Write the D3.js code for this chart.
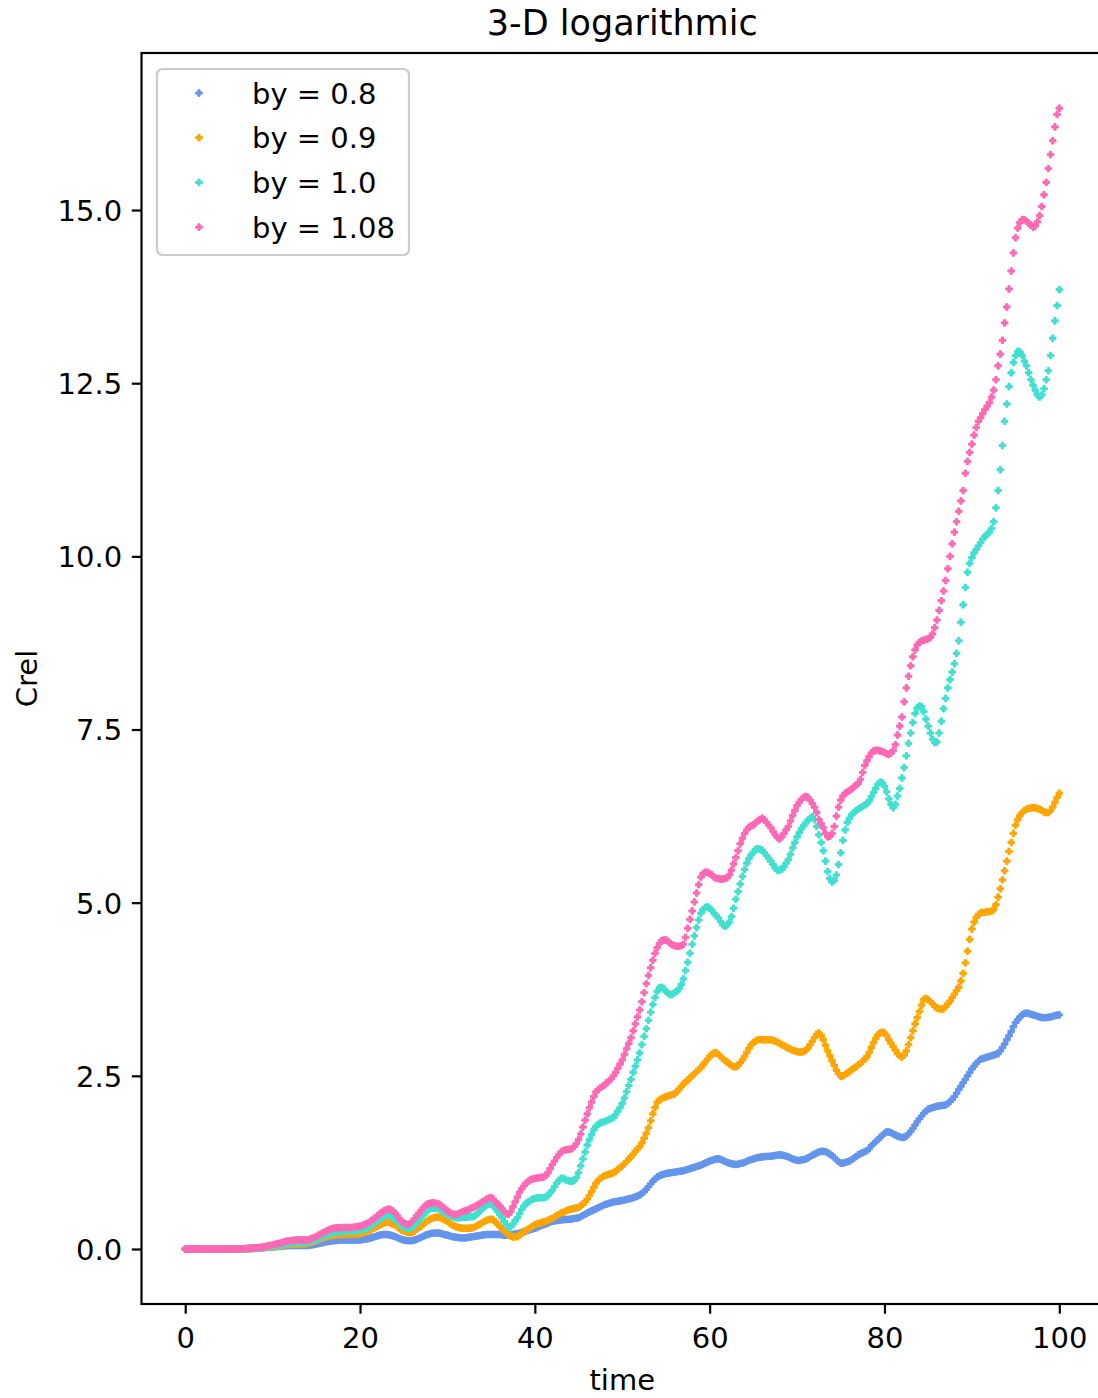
<!DOCTYPE html>
<html><head><meta charset="utf-8">
<script src="https://cdn.jsdelivr.net/npm/d3@7"></script>
<style>body{margin:0;background:#fff}svg{display:block}text{font-family:"DejaVu Sans",sans-serif;fill:#000}</style>
</head><body><svg id="c" width="1098" height="1398"></svg>
<script>
const chartTitle = "3-D logarithmic";
const xLabel = "time";
const yLabel = "Crel";
const seriesNames = ["by = 0.8", "by = 0.9", "by = 1.0", "by = 1.08"];
const seriesColors = ["#6495ED", "#FFA500", "#40E0D0", "#FF69B4"];
const xTicks = [0, 20, 40, 60, 80, 100];
const yTicks = [0, 2.5, 5, 7.5, 10, 12.5, 15];
const timeStep = 0.25;

const by08 = [
0,0,0,0, 0,0,0,0, 0,0,0,0, 0,0,0,0, 0,0,0,0, 0,0,0,0,
0,0.001,0.002,0.003, 0.004,0.005,0.006,0.008, 0.01,0.012,0.014,0.017, 0.02,0.022,0.025,0.027,
0.03,0.033,0.035,0.038, 0.04,0.043,0.046,0.048, 0.05,0.05,0.05,0.05, 0.05,0.05,0.05,0.05,
0.05,0.055,0.06,0.065, 0.07,0.078,0.085,0.093, 0.1,0.105,0.11,0.115, 0.12,0.123,0.126,0.128,
0.13,0.13,0.13,0.13, 0.13,0.13,0.13,0.13, 0.13,0.135,0.14,0.145, 0.15,0.16,0.17,0.18,
0.19,0.2,0.205,0.21, 0.21,0.205,0.2,0.19, 0.18,0.165,0.15,0.14, 0.13,0.125,0.12,0.12,
0.12,0.13,0.14,0.155, 0.17,0.185,0.2,0.21, 0.22,0.225,0.23,0.23, 0.23,0.225,0.215,0.205,
0.2,0.19,0.18,0.175, 0.17,0.165,0.16,0.16, 0.16,0.165,0.17,0.175, 0.18,0.185,0.19,0.195,
0.2,0.205,0.21,0.21, 0.21,0.21,0.21,0.21, 0.21,0.205,0.2,0.2, 0.2,0.205,0.21,0.215,
0.22,0.23,0.24,0.25, 0.26,0.27,0.28,0.29, 0.3,0.31,0.325,0.34, 0.35,0.36,0.375,0.39,
0.4,0.405,0.41,0.415, 0.42,0.423,0.425,0.428, 0.43,0.435,0.44,0.445, 0.45,0.465,0.485,0.5,
0.52,0.535,0.55,0.565, 0.58,0.595,0.61,0.625, 0.64,0.65,0.66,0.67, 0.68,0.685,0.69,0.695,
0.7,0.707,0.715,0.722, 0.73,0.74,0.752,0.765, 0.78,0.8,0.83,0.86, 0.9,0.94,0.98,1.01,
1.04,1.055,1.07,1.08, 1.09,1.095,1.1,1.105, 1.11,1.115,1.12,1.125, 1.13,1.14,1.15,1.16,
1.17,1.18,1.19,1.2, 1.21,1.225,1.24,1.255, 1.27,1.28,1.29,1.3, 1.3,1.295,1.28,1.265,
1.25,1.24,1.23,1.225, 1.22,1.225,1.235,1.24, 1.25,1.265,1.28,1.29, 1.3,1.31,1.32,1.325,
1.33,1.333,1.336,1.338, 1.34,1.345,1.35,1.355, 1.36,1.355,1.35,1.34, 1.33,1.315,1.3,1.29,
1.28,1.28,1.285,1.29, 1.3,1.315,1.335,1.355, 1.37,1.385,1.4,1.41, 1.41,1.405,1.39,1.37,
1.35,1.32,1.29,1.26, 1.24,1.24,1.25,1.26, 1.27,1.29,1.31,1.335, 1.36,1.375,1.39,1.405,
1.42,1.45,1.49,1.52, 1.55,1.58,1.61,1.64, 1.67,1.69,1.69,1.68, 1.66,1.645,1.63,1.62,
1.61,1.615,1.63,1.66, 1.7,1.74,1.79,1.84, 1.88,1.92,1.96,1.99, 2.02,2.03,2.04,2.05,
2.06,2.065,2.07,2.075, 2.08,2.1,2.13,2.16, 2.2,2.25,2.3,2.35, 2.4,2.45,2.5,2.55,
2.6,2.64,2.68,2.71, 2.74,2.75,2.76,2.77, 2.78,2.79,2.8,2.81, 2.82,2.86,2.91,2.96,
3.02,3.08,3.14,3.21, 3.27,3.31,3.35,3.38, 3.4,3.405,3.4,3.39, 3.38,3.37,3.36,3.35,
3.34,3.34,3.34,3.345, 3.35,3.36,3.37,3.375, 3.38
];

const by09 = [
0,0,0,0, 0,0,0,0, 0,0,0,0, 0,0,0,0, 0,0,0,0, 0,0,0,0,
0,0.001,0.002,0.003, 0.004,0.005,0.006,0.008, 0.01,0.012,0.015,0.017, 0.02,0.023,0.025,0.028,
0.03,0.035,0.04,0.045, 0.05,0.055,0.06,0.065, 0.07,0.07,0.07,0.07, 0.07,0.072,0.075,0.077,
0.08,0.09,0.1,0.11, 0.12,0.135,0.15,0.16, 0.17,0.18,0.19,0.195, 0.2,0.203,0.206,0.208,
0.21,0.21,0.21,0.21, 0.21,0.212,0.215,0.217, 0.22,0.23,0.24,0.25, 0.26,0.275,0.295,0.31,
0.33,0.345,0.36,0.375, 0.39,0.385,0.375,0.36, 0.35,0.32,0.295,0.275, 0.26,0.25,0.24,0.235,
0.24,0.26,0.285,0.31, 0.33,0.36,0.385,0.41, 0.43,0.445,0.455,0.46, 0.46,0.45,0.435,0.415,
0.4,0.375,0.35,0.335, 0.32,0.31,0.305,0.3, 0.3,0.3,0.3,0.305, 0.31,0.325,0.345,0.36,
0.38,0.4,0.415,0.425, 0.43,0.42,0.39,0.36, 0.33,0.29,0.26,0.23, 0.2,0.185,0.175,0.175,
0.18,0.2,0.225,0.25, 0.27,0.29,0.31,0.33, 0.35,0.36,0.37,0.38, 0.39,0.4,0.415,0.43,
0.44,0.46,0.48,0.5, 0.52,0.53,0.545,0.56, 0.57,0.578,0.585,0.593, 0.6,0.62,0.65,0.68,
0.72,0.77,0.83,0.89, 0.95,0.99,1.02,1.04, 1.06,1.07,1.08,1.09, 1.1,1.12,1.15,1.175,
1.2,1.23,1.265,1.3, 1.33,1.37,1.41,1.445, 1.48,1.53,1.6,1.67, 1.75,1.85,1.95,2.04,
2.12,2.15,2.17,2.185, 2.2,2.21,2.22,2.23, 2.24,2.27,2.31,2.345, 2.38,2.41,2.44,2.47,
2.5,2.53,2.56,2.59, 2.62,2.66,2.7,2.74, 2.78,2.81,2.83,2.83, 2.81,2.78,2.75,2.72,
2.7,2.67,2.65,2.63, 2.63,2.65,2.69,2.73, 2.78,2.84,2.9,2.95, 2.98,3.0,3.02,3.025,
3.02,3.02,3.02,3.02, 3.02,3.01,3.0,2.985, 2.97,2.95,2.935,2.915, 2.9,2.885,2.87,2.86,
2.85,2.845,2.845,2.85, 2.87,2.9,2.95,3.0, 3.05,3.1,3.12,3.08, 3.02,2.94,2.86,2.79,
2.72,2.65,2.58,2.53, 2.49,2.5,2.52,2.54, 2.56,2.59,2.61,2.63, 2.66,2.68,2.71,2.74,
2.78,2.84,2.91,2.98, 3.04,3.09,3.12,3.13, 3.12,3.08,3.02,2.97, 2.92,2.87,2.82,2.79,
2.77,2.8,2.86,2.95, 3.05,3.15,3.25,3.34, 3.43,3.52,3.6,3.62, 3.6,3.57,3.54,3.5,
3.48,3.47,3.46,3.47, 3.5,3.54,3.58,3.63, 3.68,3.73,3.78,3.87, 3.98,4.13,4.3,4.47,
4.62,4.72,4.79,4.83, 4.85,4.86,4.86,4.87, 4.87,4.88,4.9,4.97, 5.08,5.2,5.33,5.46,
5.6,5.74,5.87,6.0, 6.12,6.2,6.26,6.3, 6.33,6.35,6.36,6.365, 6.37,6.37,6.36,6.35,
6.33,6.31,6.3,6.3, 6.33,6.38,6.45,6.52, 6.58
];

const by10 = [
0,0,0,0, 0,0,0,0, 0,0,0,0, 0,0,0,0, 0,0,0,0, 0,0,0,0,
0,0.001,0.002,0.003, 0.005,0.006,0.007,0.008, 0.01,0.012,0.015,0.017, 0.02,0.025,0.03,0.035,
0.04,0.045,0.05,0.055, 0.06,0.068,0.075,0.083, 0.09,0.09,0.09,0.09, 0.09,0.092,0.095,0.097,
0.1,0.11,0.12,0.13, 0.14,0.155,0.17,0.185, 0.2,0.21,0.22,0.23, 0.24,0.245,0.25,0.255,
0.26,0.26,0.26,0.26, 0.26,0.263,0.265,0.267, 0.27,0.28,0.29,0.3, 0.31,0.335,0.36,0.385,
0.41,0.43,0.45,0.47, 0.49,0.485,0.47,0.45, 0.43,0.4,0.37,0.34, 0.32,0.305,0.3,0.3,
0.31,0.34,0.38,0.415, 0.45,0.49,0.525,0.555, 0.58,0.59,0.59,0.585, 0.58,0.56,0.54,0.52,
0.5,0.485,0.47,0.46, 0.45,0.45,0.455,0.455, 0.46,0.46,0.465,0.465, 0.47,0.49,0.52,0.55,
0.58,0.61,0.635,0.65, 0.65,0.62,0.58,0.54, 0.5,0.45,0.4,0.35, 0.31,0.32,0.36,0.41,
0.45,0.51,0.57,0.62, 0.66,0.68,0.7,0.72, 0.73,0.735,0.74,0.74, 0.74,0.75,0.77,0.81,
0.85,0.9,0.95,0.99, 1.02,1.02,1.0,0.99, 0.98,0.98,0.99,1.03, 1.1,1.2,1.3,1.4,
1.5,1.58,1.65,1.72, 1.77,1.8,1.82,1.83, 1.84,1.855,1.87,1.885, 1.9,1.94,1.99,2.04,
2.1,2.18,2.27,2.36, 2.45,2.55,2.64,2.73, 2.83,2.95,3.07,3.18, 3.3,3.42,3.53,3.63,
3.72,3.77,3.78,3.76, 3.72,3.69,3.67,3.68, 3.7,3.72,3.76,3.82, 3.9,4.02,4.14,4.27,
4.4,4.52,4.64,4.75, 4.85,4.9,4.93,4.94, 4.92,4.89,4.85,4.81, 4.78,4.73,4.68,4.66,
4.68,4.72,4.8,4.92, 5.05,5.16,5.27,5.38, 5.48,5.57,5.64,5.69, 5.73,5.77,5.78,5.77,
5.76,5.72,5.68,5.64, 5.6,5.55,5.5,5.47, 5.47,5.48,5.52,5.57, 5.62,5.7,5.79,5.87,
5.95,6.01,6.07,6.11, 6.15,6.19,6.22,6.24, 6.2,6.1,5.98,5.87, 5.75,5.6,5.45,5.35,
5.3,5.32,5.4,5.55, 5.72,5.9,6.05,6.16, 6.22,6.27,6.3,6.33, 6.35,6.37,6.39,6.41,
6.43,6.47,6.53,6.59, 6.65,6.71,6.74,6.73, 6.68,6.6,6.5,6.42, 6.37,6.42,6.54,6.65,
6.8,6.95,7.12,7.3, 7.45,7.6,7.73,7.81, 7.84,7.83,7.76,7.65, 7.55,7.45,7.36,7.31,
7.32,7.45,7.62,7.8, 7.95,8.1,8.22,8.33, 8.45,8.6,8.78,9.05, 9.3,9.55,9.77,9.9,
9.98,10.05,10.1,10.15, 10.2,10.25,10.29,10.32, 10.35,10.4,10.5,10.7, 10.95,11.25,11.6,11.95,
12.2,12.45,12.65,12.8, 12.9,12.96,12.95,12.9, 12.82,12.75,12.65,12.55, 12.47,12.4,12.33,12.3,
12.33,12.42,12.55,12.68, 12.9,13.15,13.4,13.62, 13.85
];

const by108 = [
0,0,0,0, 0,0,0,0, 0,0,0,0, 0,0,0,0, 0,0,0,0, 0,0,0,0,
0,0.002,0.004,0.006, 0.008,0.01,0.012,0.015, 0.018,0.02,0.023,0.026, 0.03,0.037,0.045,0.052,
0.06,0.068,0.075,0.083, 0.09,0.1,0.11,0.115, 0.12,0.125,0.128,0.13, 0.13,0.13,0.13,0.13,
0.13,0.14,0.155,0.165, 0.18,0.2,0.215,0.235, 0.25,0.265,0.28,0.29, 0.3,0.303,0.306,0.308,
0.31,0.31,0.31,0.31, 0.31,0.315,0.32,0.325, 0.33,0.34,0.355,0.365, 0.38,0.405,0.43,0.455,
0.48,0.505,0.53,0.55, 0.57,0.575,0.57,0.55, 0.52,0.48,0.44,0.4, 0.38,0.36,0.355,0.37,
0.4,0.44,0.48,0.52, 0.56,0.6,0.63,0.65, 0.66,0.665,0.665,0.66, 0.65,0.63,0.6,0.575,
0.55,0.53,0.51,0.5, 0.5,0.51,0.525,0.54, 0.55,0.56,0.575,0.59, 0.6,0.62,0.64,0.66,
0.68,0.7,0.72,0.735, 0.74,0.72,0.68,0.65, 0.62,0.58,0.54,0.51, 0.5,0.54,0.61,0.68,
0.75,0.82,0.87,0.91, 0.95,0.98,1.0,1.01, 1.02,1.025,1.03,1.035, 1.04,1.06,1.1,1.16,
1.22,1.27,1.32,1.36, 1.4,1.42,1.43,1.435, 1.44,1.45,1.48,1.52, 1.58,1.66,1.76,1.86,
1.95,2.04,2.12,2.2, 2.27,2.3,2.33,2.35, 2.37,2.4,2.43,2.46, 2.5,2.55,2.61,2.67,
2.73,2.81,2.89,2.97, 3.05,3.15,3.25,3.35, 3.45,3.57,3.7,3.83, 3.95,4.06,4.17,4.27,
4.35,4.41,4.45,4.46, 4.46,4.44,4.41,4.39, 4.38,4.37,4.37,4.38, 4.4,4.5,4.63,4.76,
4.88,5.01,5.14,5.26, 5.37,5.42,5.44,5.44, 5.42,5.4,5.37,5.35, 5.35,5.34,5.34,5.35,
5.36,5.4,5.47,5.56, 5.65,5.75,5.85,5.93, 6.0,6.05,6.09,6.11, 6.12,6.15,6.18,6.2,
6.22,6.2,6.16,6.12, 6.08,6.03,5.98,5.94, 5.92,5.95,6.0,6.05, 6.1,6.18,6.26,6.33,
6.4,6.45,6.49,6.52, 6.53,6.52,6.48,6.43, 6.38,6.3,6.2,6.14, 6.08,6.0,5.95,5.96,
6.0,6.1,6.25,6.38, 6.48,6.54,6.58,6.6, 6.62,6.64,6.67,6.7, 6.72,6.78,6.88,6.98,
7.05,7.11,7.16,7.19, 7.2,7.2,7.19,7.18, 7.17,7.15,7.14,7.16, 7.2,7.28,7.42,7.55,
7.68,7.9,8.1,8.27, 8.42,8.55,8.65,8.72, 8.76,8.78,8.79,8.8, 8.81,8.83,8.88,8.97,
9.08,9.22,9.36,9.5, 9.65,9.82,10.0,10.18, 10.35,10.5,10.65,10.8, 10.95,11.2,11.37,11.5,
11.62,11.75,11.86,11.95, 12.0,12.06,12.12,12.17, 12.22,12.3,12.4,12.55, 12.75,12.92,13.12,13.37,
13.6,13.86,14.12,14.38, 14.6,14.74,14.82,14.86, 14.86,14.84,14.81,14.78, 14.75,14.77,14.83,14.92,
15.05,15.22,15.4,15.6, 15.8,16.0,16.2,16.38, 16.47
];

const seriesValues = [by08, by09, by10, by108];
const time = d3.range(by08.length).map(i => i * timeStep);

const svg = d3.select("#c");
const L = 141.5, R = 1103, T = 53, B = 1304;
const x = d3.scaleLinear().domain([-5, 105]).range([L, R]);
const y = d3.scaleLinear().domain([-0.794, 17.267]).range([B, T]);

svg.append("rect").attr("width", 1098).attr("height", 1398).attr("fill", "#fff");

svg.append("defs").append("clipPath").attr("id", "clip")
  .append("rect").attr("x", L).attr("y", T).attr("width", R - L).attr("height", B - T);

const marker = d3.symbol().type(d3.symbolCross).size(24)();

const plot = svg.append("g").attr("clip-path", "url(#clip)");
seriesValues.forEach((vals, si) => {
  plot.append("g").attr("fill", seriesColors[si]).attr("stroke", seriesColors[si]).attr("stroke-width", 1)
    .selectAll("path").data(vals).join("path")
    .attr("d", marker)
    .attr("transform", (d, i) => `translate(${x(time[i])},${y(d)})`);
});

// axes
const fs = 29;
const tickLen = 9.7, tickPad = 9.7;
const xAxis = svg.append("g").attr("transform", `translate(0,${B})`)
  .call(d3.axisBottom(x).tickValues(xTicks).tickSize(tickLen).tickSizeOuter(0).tickPadding(tickPad).tickFormat(d3.format("d")));
const yAxis = svg.append("g").attr("transform", `translate(${L},0)`)
  .call(d3.axisLeft(y).tickValues(yTicks).tickSize(tickLen).tickSizeOuter(0).tickPadding(tickPad).tickFormat(d3.format(".1f")));
[xAxis, yAxis].forEach(g => {
  g.select(".domain").remove();
  g.selectAll(".tick line").attr("stroke", "#000").attr("stroke-width", 2.2);
  g.selectAll(".tick text").attr("font-size", fs).attr("font-family", "DejaVu Sans").attr("fill", "#000");
});
xAxis.selectAll(".tick text").attr("y", 44).attr("dy", 0);
yAxis.selectAll(".tick text").attr("dy", "0.36em");

svg.append("rect").attr("x", L).attr("y", T).attr("width", R - L).attr("height", B - T)
  .attr("fill", "none").attr("stroke", "#000").attr("stroke-width", 2.2);

// title and labels
svg.append("text").attr("x", (L + R) / 2).attr("y", 35).attr("text-anchor", "middle")
  .attr("font-size", 35).text(chartTitle);
svg.append("text").attr("x", (L + R) / 2).attr("y", 1390).attr("text-anchor", "middle")
  .attr("font-size", fs).text(xLabel);
svg.append("text").attr("transform", `translate(37,${(T + B) / 2}) rotate(-90)`).attr("text-anchor", "middle")
  .attr("font-size", fs).text(yLabel);

// legend
const lg = svg.append("g");
lg.append("rect").attr("x", 157).attr("y", 69).attr("width", 252).attr("height", 186).attr("rx", 5.5)
  .attr("fill", "#fff").attr("fill-opacity", 0.8).attr("stroke", "#cccccc").attr("stroke-width", 2.2);
seriesNames.forEach((name, i) => {
  const cy = 93 + i * 44.7;
  lg.append("path").attr("d", marker).attr("fill", seriesColors[i]).attr("stroke", seriesColors[i]).attr("stroke-width", 1)
    .attr("transform", `translate(199,${cy})`);
  lg.append("text").attr("x", 252).attr("y", cy + 10.5).attr("font-size", fs).text(name);
});
</script></body></html>
